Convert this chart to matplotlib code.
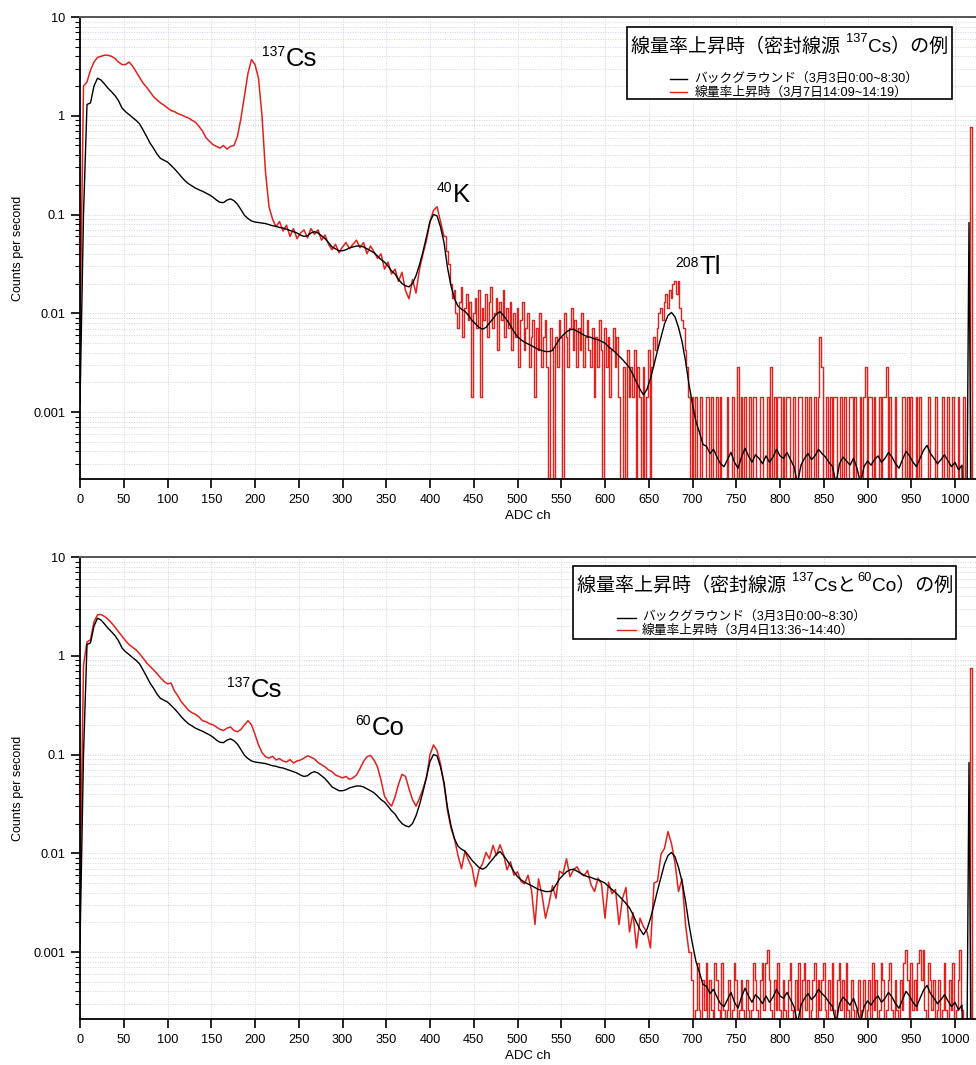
import numpy as np
import matplotlib.pyplot as plt
from matplotlib.patches import Rectangle
from matplotlib.ticker import LogLocator, NullFormatter

plt.rcParams['font.family'] = ['Liberation Sans', 'Noto Sans CJK JP', 'DejaVu Sans']

# ---- data ----
# background spectrum, every 4th channel, counts per second
bg_ch = np.arange(0, 1024, 4)
bg_cps = [
    0.0012, 0.1, 1.3, 1.35, 2.0, 2.4, 2.3, 2.1, 1.9, 1.75, 1.6, 1.42, 1.2, 1.1, 1.03, 0.96,
    0.9, 0.83, 0.72, 0.62, 0.53, 0.47, 0.41, 0.37, 0.355, 0.34, 0.315, 0.29, 0.265, 0.24, 0.22, 0.205,
    0.195, 0.185, 0.178, 0.172, 0.165, 0.158, 0.15, 0.14, 0.133, 0.132, 0.14, 0.144, 0.138, 0.127, 0.112, 0.098,
    0.091, 0.086, 0.084, 0.083, 0.082, 0.081, 0.079, 0.077, 0.076, 0.074, 0.073, 0.071, 0.069, 0.067, 0.065, 0.062,
    0.06, 0.061, 0.065, 0.067, 0.065, 0.061, 0.057, 0.052, 0.047, 0.045, 0.043, 0.043, 0.044, 0.046, 0.047, 0.048,
    0.048, 0.047, 0.045, 0.043, 0.041, 0.038, 0.035, 0.033, 0.03, 0.027, 0.025, 0.022, 0.02, 0.019, 0.0185, 0.02,
    0.024, 0.031, 0.042, 0.06, 0.085, 0.1, 0.097, 0.075, 0.052, 0.029, 0.019, 0.014, 0.0118, 0.011, 0.0105, 0.0095,
    0.0085, 0.0078, 0.0072, 0.0069, 0.0072, 0.008, 0.0088, 0.0098, 0.0104, 0.0095, 0.0085, 0.0075, 0.0065, 0.0058, 0.0054, 0.0051,
    0.0049, 0.0047, 0.0045, 0.0043, 0.0042, 0.0041, 0.0041, 0.0042, 0.0048, 0.0055, 0.006, 0.0065, 0.0068, 0.0069, 0.0066, 0.0063,
    0.006, 0.0058, 0.0057, 0.0055, 0.0054, 0.0052, 0.005, 0.0046, 0.0043, 0.004, 0.0037, 0.0034, 0.0031, 0.0028, 0.0024, 0.002,
    0.0017, 0.0015, 0.0017, 0.0022, 0.003, 0.0042, 0.0057, 0.0078, 0.0095, 0.0102, 0.0092, 0.0072, 0.0052, 0.0033, 0.0019, 0.0012,
    0.0008, 0.00062, 0.00047, 0.00045, 0.00038, 0.00042, 0.00035, 0.0003, 0.00028, 0.00033, 0.00039, 0.00031, 0.00027, 0.00035, 0.00043, 0.00036,
    0.00031, 0.00037, 0.00034, 0.0003, 0.00036, 0.00031, 0.00035, 0.00042, 0.00036, 0.00034, 0.00039, 0.00033, 0.00028, 0.00019, 0.00029, 0.00034,
    0.00038, 0.00033, 0.00036, 0.00042, 0.00038, 0.00035, 0.00031, 0.00028, 0.00019, 0.0003, 0.00035, 0.00032, 0.00029, 0.00034, 0.00027, 0.00019,
    0.00028, 0.00032, 0.00029, 0.00033, 0.00036, 0.00031, 0.00034, 0.00039, 0.00035, 0.0003, 0.00027, 0.00033, 0.0004, 0.00036, 0.00031, 0.00028,
    0.00034, 0.00041, 0.00046, 0.00038, 0.00034, 0.0003, 0.00033, 0.00037, 0.00032, 0.00028, 0.00031, 0.00026, 0.00029, 0.0, 0.083, 0.0,
]

# sealed 137Cs source (3/7), low part every 4th channel in cps
cs_ch = np.arange(0, 420, 4)
cs_cps = [
    0.006, 2.0, 2.2, 2.9, 3.5, 3.9, 4.0, 4.1, 4.1, 4.0, 3.8, 3.5, 3.3, 3.3, 3.5, 3.2,
    2.8, 2.45, 2.15, 1.95, 1.75, 1.56, 1.45, 1.35, 1.28, 1.2, 1.13, 1.1, 1.05, 1.02, 0.98, 0.95,
    0.9, 0.86, 0.78, 0.7, 0.6, 0.55, 0.51, 0.49, 0.47, 0.5, 0.46, 0.49, 0.5, 0.62, 0.95, 1.6,
    2.7, 3.7, 3.3, 2.4, 1.0, 0.27, 0.12, 0.09, 0.075, 0.085, 0.068, 0.078, 0.06, 0.072, 0.057, 0.065,
    0.07, 0.058, 0.072, 0.063, 0.07, 0.055, 0.062, 0.05, 0.044, 0.05, 0.041, 0.047, 0.052, 0.045, 0.05, 0.055,
    0.046, 0.052, 0.04, 0.048, 0.042, 0.036, 0.04, 0.028, 0.033, 0.025, 0.028, 0.021, 0.026, 0.017, 0.014, 0.022,
    0.016, 0.028, 0.04, 0.055, 0.085, 0.11, 0.12, 0.085, 0.06,
]
# high part every 2nd channel, in counts (one count = cs_cps_per_count)
cs_tail_ch = np.arange(420, 1024, 2)
cs_tail_counts = [
    30, 22, 14, 10, 12, 7, 5, 9, 13, 4, 8, 11, 6, 9, 1, 7, 10, 5, 12, 1,
    8, 6, 11, 4, 9, 13, 5, 7, 10, 3, 9, 6, 12, 4, 8, 5, 9, 3, 7, 4,
    8, 2, 6, 9, 3, 5, 7, 2, 4, 6, 1, 5, 3, 7, 2, 4, 6, 2, 0, 5,
    3, 0, 4, 2, 6, 4, 0, 7, 4, 2, 5, 8, 3, 6, 2, 5, 3, 7, 2, 4,
    6, 3, 2, 5, 1, 4, 2, 6, 3, 0, 5, 2, 4, 1, 3, 5, 2, 4, 1, 0,
    0, 2, 0, 3, 1, 2, 1, 3, 0, 2, 1, 0, 2, 0, 1, 3, 0, 2, 4, 3,
    5, 7, 8, 6, 9, 11, 8, 12, 10, 14, 15, 11, 15, 8, 6, 5, 3, 2, 1, 0,
    1, 0, 1, 0, 0, 1, 0, 0, 1, 1, 0, 1, 0, 0, 1, 0, 1, 0, 0, 0,
    1, 0, 0, 1, 0, 0, 2, 0, 1, 0, 1, 0, 0, 1, 0, 1, 1, 0, 0, 1,
    1, 0, 0, 1, 0, 2, 0, 1, 0, 1, 1, 0, 1, 0, 1, 1, 0, 0, 1, 0,
    0, 1, 1, 0, 0, 1, 0, 1, 0, 0, 1, 0, 1, 4, 2, 0, 0, 1, 0, 1,
    0, 1, 1, 0, 0, 1, 0, 1, 0, 0, 1, 1, 0, 1, 0, 0, 1, 0, 1, 2,
    0, 1, 1, 0, 1, 0, 0, 1, 0, 1, 1, 2, 0, 1, 0, 0, 1, 0, 0, 0,
    1, 1, 0, 1, 0, 1, 0, 0, 1, 0, 1, 0, 0, 0, 0, 1, 0, 0, 0, 1,
    0, 0, 0, 1, 0, 0, 1, 0, 0, 1, 0, 0, 1, 0, 0, 1, 0, 0, 0, 540,
    0, 0,
]
cs_cps_per_count = 0.00143

# sealed 137Cs + 60Co sources (3/4)
csco_ch = np.arange(0, 700, 4)
csco_cps = [
    0.004, 0.8, 1.38, 1.45, 2.2, 2.6, 2.62, 2.5, 2.35, 2.15, 1.95, 1.75, 1.58, 1.42, 1.3, 1.22,
    1.15, 1.05, 0.95, 0.85, 0.78, 0.72, 0.66, 0.6, 0.55, 0.52, 0.53, 0.44, 0.39, 0.34, 0.31, 0.28,
    0.265, 0.255, 0.24, 0.22, 0.215, 0.205, 0.2, 0.19, 0.18, 0.175, 0.185, 0.19, 0.175, 0.17, 0.18, 0.2,
    0.22, 0.2, 0.16, 0.125, 0.105, 0.095, 0.092, 0.096, 0.088, 0.091, 0.086, 0.084, 0.089, 0.082, 0.086, 0.088,
    0.092, 0.097, 0.094, 0.09, 0.083, 0.079, 0.075, 0.07, 0.067, 0.062, 0.06, 0.058, 0.06, 0.056, 0.058, 0.062,
    0.072, 0.085, 0.095, 0.098, 0.088, 0.075, 0.055, 0.038, 0.033, 0.03, 0.037, 0.05, 0.063, 0.06, 0.045, 0.035,
    0.03, 0.036, 0.045, 0.058, 0.1, 0.125, 0.11, 0.08, 0.05, 0.027, 0.018, 0.014, 0.0095, 0.007, 0.0105, 0.0085,
    0.0072, 0.0046, 0.0068, 0.0078, 0.0102, 0.0088, 0.012, 0.0095, 0.0122, 0.0098, 0.0068, 0.0082, 0.006, 0.0065, 0.0052, 0.0049,
    0.006, 0.0042, 0.0019, 0.0055, 0.0038, 0.0022, 0.0031, 0.0047, 0.0035, 0.0066, 0.0062, 0.0088, 0.0058, 0.0068, 0.0073, 0.0063,
    0.0059, 0.0067, 0.0048, 0.0041, 0.0056, 0.0049, 0.0022, 0.0051, 0.0039, 0.0043, 0.0019, 0.0035, 0.0045, 0.0016, 0.0025, 0.0011,
    0.0022, 0.0018, 0.0016, 0.0011, 0.005, 0.0052, 0.0098, 0.0112, 0.0166, 0.0125, 0.008, 0.0041, 0.0055, 0.0019, 0.001,
]
csco_tail_ch = np.arange(700, 1024, 2)
csco_tail_counts = [
    2, 0, 1, 3, 1, 0, 2, 1, 3, 0, 2, 1, 0, 3, 2, 1, 0, 3, 1, 0,
    1, 2, 0, 1, 3, 2, 0, 1, 2, 1, 0, 2, 1, 0, 1, 3, 2, 1, 0, 2,
    3, 1, 3, 4, 2, 1, 0, 2, 1, 3, 1, 0, 2, 1, 0, 2, 3, 1, 0, 2,
    1, 3, 0, 2, 3, 1, 2, 0, 1, 2, 3, 0, 2, 1, 2, 3, 1, 0, 2, 1,
    3, 1, 0, 2, 3, 1, 2, 0, 3, 1, 0, 2, 1, 0, 1, 2, 0, 1, 2, 0,
    1, 2, 0, 3, 1, 2, 0, 1, 3, 2, 0, 1, 2, 3, 1, 0, 2, 1, 0, 2,
    1, 3, 4, 2, 0, 3, 1, 2, 1, 3, 4, 2, 4, 1, 0, 3, 2, 1, 2, 0,
    1, 2, 0, 1, 3, 1, 0, 2, 1, 3, 0, 1, 2, 4, 1, 0, 0, 0, 0, 2900,
    0, 0,
]
csco_cps_per_count = 0.00026

xtick_vals = list(range(0, 1001, 50))
ytick_vals = [0.001, 0.01, 0.1, 1, 10]
ytick_labels = ['0.001', '0.01', '0.1', '1', '10']

bg_label = 'バックグラウンド（3月3日0:00~8:30）'
cs_label = '線量率上昇時（3月7日14:09~14:19）'
csco_label = '線量率上昇時（3月4日13:36~14:40）'
cs_title = [('線量率上昇時（密封線源 ', False), ('137', True), ('Cs）の例', False)]
csco_title = [('線量率上昇時（密封線源 ', False), ('137', True), ('Csと', False),
              ('60', True), ('Co）の例', False)]

RED = '#e3211c'
GRID = '#d3d3e6'


def style_axes(ax):
    ax.set_yscale('log')
    ax.set_xlim(0, 1024)
    ax.set_ylim(2.1e-4, 10)
    ax.set_xticks(xtick_vals)
    ax.set_yticks(ytick_vals)
    ax.set_yticklabels(ytick_labels)
    ax.yaxis.set_minor_locator(LogLocator(base=10, subs=np.arange(2, 10)))
    ax.yaxis.set_minor_formatter(NullFormatter())
    ax.tick_params(which='major', direction='out', length=6.5, width=1.2, labelsize=9.2, pad=4)
    ax.tick_params(which='minor', direction='out', length=3.5, width=0.8)
    ax.grid(True, which='major', axis='x', color=GRID, ls=(0, (1, 1.5)), lw=0.7)
    ax.grid(True, which='both', axis='y', color=GRID, ls=(0, (1, 1.5)), lw=0.7)
    ax.set_axisbelow(True)
    ax.spines['right'].set_visible(False)
    ax.spines['top'].set_color('#555555')
    ax.spines['top'].set_linewidth(1.4)
    ax.spines['left'].set_linewidth(1.3)
    ax.spines['bottom'].set_linewidth(1.3)
    ax.set_xlabel('ADC ch', fontsize=9.5)
    ax.set_ylabel('Counts per second', fontsize=9)
    ax.xaxis.set_label_coords(0.5, -0.068)
    ax.yaxis.set_label_coords(-0.062, 0.5)


def draw_spectra(ax, low_ch, low_cps, tail_ch, tail_counts, per_count):
    tail = np.asarray(tail_counts, float) * per_count
    tail[tail <= 0] = 1e-6
    bg = np.asarray(bg_cps, float)
    bg[bg <= 0] = 1e-6
    ax.plot(low_ch, low_cps, color=RED, lw=1.1, zorder=2)
    ax.step(np.r_[low_ch[-1], tail_ch], np.r_[low_cps[-1], tail], where='mid',
            color=RED, lw=1.0, zorder=2)
    ax.plot(bg_ch, bg, color='black', lw=1.0, zorder=3)


def iso_label(ax, x, y, mass, elem, drop=5.1):
    t = ax.text(x, y, mass, fontsize=10, va='baseline', ha='left')
    ax.annotate(elem, xy=(1, 0), xycoords=t, xytext=(0.4, -drop),
                textcoords='offset points', fontsize=18.5, va='baseline', ha='left')


def draw_key(ax, box, tx, ty, parts, line_x, text_x, rows):
    x0, y0, x1, y1 = box
    ax.add_patch(Rectangle((x0, y0), x1 - x0, y1 - y0, transform=ax.transAxes,
                           facecolor='white', edgecolor='black', lw=1.2, zorder=5))
    first = ax.text(tx, ty, parts[0][0], transform=ax.transAxes, fontsize=13.7,
                    va='baseline', ha='left', zorder=6)
    prev = first
    for txt, sup in parts[1:]:
        if sup:
            prev = ax.annotate(txt, xy=(1, 0), xycoords=(prev, first), xytext=(0.6, 10.5),
                               textcoords='offset points', fontsize=9.3,
                               va='baseline', ha='left', zorder=6)
        else:
            prev = ax.annotate(txt, xy=(1, 0), xycoords=(prev, first), xytext=(0.3, 0),
                               textcoords='offset points', fontsize=13.7,
                               va='bottom', ha='left', zorder=6)
    for label, color, yy in rows:
        ax.plot(line_x, [yy, yy], transform=ax.transAxes, color=color, lw=1.0, zorder=6)
        ax.text(text_x, yy, label, transform=ax.transAxes, fontsize=9.2,
                va='center', ha='left', zorder=6)


fig = plt.figure(figsize=(9.76, 10.65), dpi=100)
ax1 = fig.add_axes([80 / 976, 1 - 479 / 1065, 896 / 976, 462 / 1065])
ax2 = fig.add_axes([80 / 976, 1 - 1019 / 1065, 896 / 976, 462 / 1065])

for ax in (ax1, ax2):
    style_axes(ax)

draw_spectra(ax1, cs_ch, cs_cps, cs_tail_ch, cs_tail_counts, cs_cps_per_count)
draw_spectra(ax2, csco_ch, csco_cps, csco_tail_ch, csco_tail_counts, csco_cps_per_count)

iso_label(ax1, 208, 4.0, '137', 'Cs')
iso_label(ax1, 408, 0.17, '40', 'K')
iso_label(ax1, 680, 0.0295, '208', 'Tl', drop=2.6)
iso_label(ax2, 168, 0.488, '137', 'Cs')
iso_label(ax2, 315, 0.2, '60', 'Co')

draw_key(ax1, (0.6105, 0.8225, 0.973, 0.978), 0.615, 0.924, cs_title,
         [0.6585, 0.6775], 0.686,
         [(bg_label, 'black', 0.865), (cs_label, RED, 0.837)])
draw_key(ax2, (0.550, 0.8225, 0.9777, 0.9805), 0.5547, 0.926, csco_title,
         [0.599, 0.6205], 0.627,
         [(bg_label, 'black', 0.869), (csco_label, RED, 0.841)])

fig.savefig('out.png', dpi=100)
